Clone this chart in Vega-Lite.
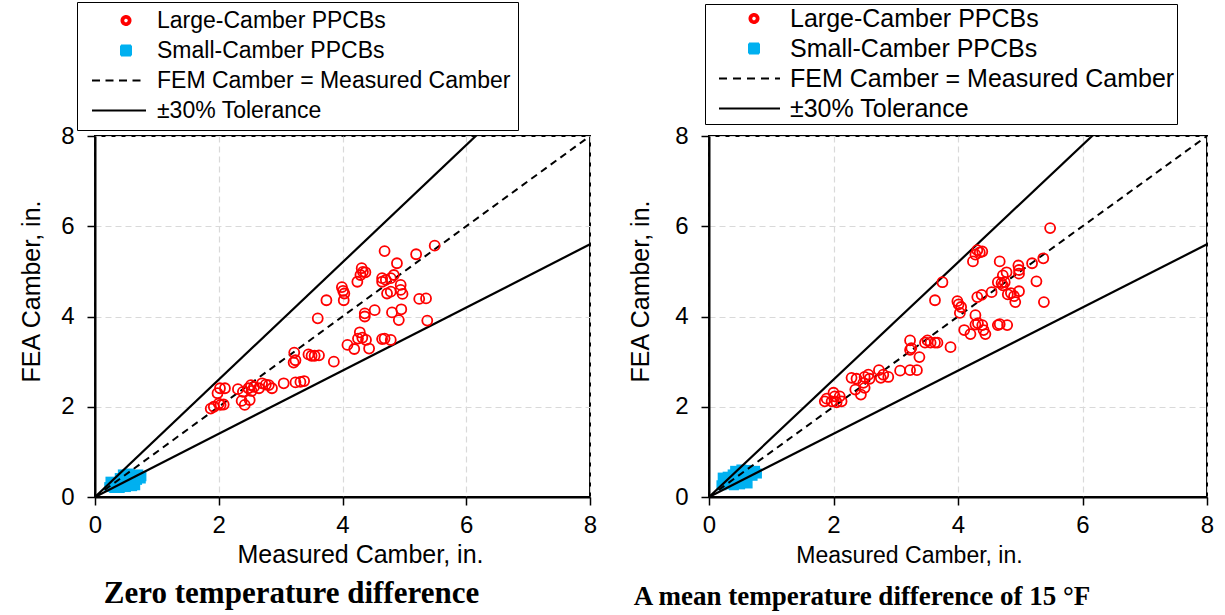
{
  "$schema": "https://vega.github.io/schema/vega-lite/v6.json",
  "background": "white",
  "padding": {"left": 18, "top": 0, "right": 5, "bottom": 5},
  "spacing": 29,
  "resolve": {"scale": {"color": "independent"}, "legend": {"color": "independent"}},
  "config": {
    "view": {"stroke": "black", "strokeWidth": 2},
    "axis": {
      "domainColor": "black", "domainWidth": 2,
      "tickColor": "black", "tickWidth": 1.5, "tickSize": 8,
      "grid": true, "gridColor": "#d9d9d9", "gridDash": [6, 4], "gridWidth": 1.2,
      "labelFont": "Liberation Sans", "labelColor": "black", "labelFontSize": 24,
      "titleFont": "Liberation Sans", "titleColor": "black", "titleFontWeight": "normal",
      "labelFlush": false, "labelOverlap": false
    },
    "axisX": {"labelPadding": 8, "titlePadding": 5},
    "axisY": {"labelPadding": 13, "titlePadding": 16},
    "legend": {
      "orient": "none", "direction": "vertical",
      "strokeColor": "black", "fillColor": "white",
      "labelFont": "Liberation Sans", "labelColor": "black", "labelLimit": 700,
      "symbolSize": 100, "symbolStrokeWidth": 2
    }
  },
  "hconcat": [
    {
      "width": 495,
      "height": 361,
      "title": {"text": "Zero temperature difference", "orient": "bottom", "anchor": "middle", "frame": "group", "dx": -51, "offset": 12, "font": "Liberation Serif", "fontWeight": "bold", "fontSize": 31, "color": "black"},
      "encoding": {
        "x": {"field": "m", "type": "quantitative", "scale": {"domain": [0, 8], "nice": false}, "axis": {"title": "Measured Camber, in.", "values": [0, 2, 4, 6, 8], "titleFontSize": 25, "titleX": 265}},
        "y": {"field": "f", "type": "quantitative", "scale": {"domain": [0, 8], "nice": false}, "axis": {"title": "FEA Camber, in.", "values": [0, 2, 4, 6, 8], "titleFontSize": 25, "titleY": 155}},
        "color": {
          "field": "s", "type": "nominal",
          "scale": {"domain": ["Large-Camber PPCBs", "Small-Camber PPCBs", "FEM Camber = Measured Camber", "±30% Tolerance"], "range": ["#FF0000", "#00B0F0", "black", "black"]},
          "legend": {
            "title": null, "legendX": -18, "legendY": -134, "labelFontSize": 23, "padding": 7, "rowPadding": 6, "symbolOffset": 30.5, "labelOffset": 19.5,
            "encode": {"symbols": {"update": {
              "shape": {"signal": "datum.value === 'Large-Camber PPCBs' ? 'M0.9,0A0.9,0.9,0,1,1,-0.9,0A0.9,0.9,0,1,1,0.9,0ZM0.55,0A0.55,0.55,0,1,0,-0.55,0A0.55,0.55,0,1,0,0.55,0Z' : datum.value === 'Small-Camber PPCBs' ? 'square' : 'M-6.8,0H4'"},
              "fill": {"signal": "datum.value === 'Small-Camber PPCBs' ? '#00B0F0' : datum.value === 'Large-Camber PPCBs' ? '#FF0000' : 'transparent'"},
              "stroke": {"signal": "datum.value === 'Large-Camber PPCBs' ? 'transparent' : datum.value === 'Small-Camber PPCBs' ? 'transparent' : 'black'"},
              "strokeDash": {"signal": "datum.value === 'FEM Camber = Measured Camber' ? [8, 5.5] : [1, 0]"},
              "strokeWidth": {"value": 2},
              "size": {"value": 100},
              "opacity": {"value": 1}
            }}}
          }
        }
      },
      "layer": [
        {
          "data": {"values": [
            {"m": 0.23, "f": 0.22, "s": "Small-Camber PPCBs"}, {"m": 0.27, "f": 0.3, "s": "Small-Camber PPCBs"}, {"m": 0.31, "f": 0.2, "s": "Small-Camber PPCBs"}, {"m": 0.35, "f": 0.27, "s": "Small-Camber PPCBs"}, {"m": 0.4, "f": 0.2, "s": "Small-Camber PPCBs"}, {"m": 0.44, "f": 0.28, "s": "Small-Camber PPCBs"}, {"m": 0.5, "f": 0.22, "s": "Small-Camber PPCBs"}, {"m": 0.55, "f": 0.3, "s": "Small-Camber PPCBs"}, {"m": 0.6, "f": 0.24, "s": "Small-Camber PPCBs"}, {"m": 0.65, "f": 0.26, "s": "Small-Camber PPCBs"}, {"m": 0.25, "f": 0.34, "s": "Small-Camber PPCBs"}, {"m": 0.48, "f": 0.33, "s": "Small-Camber PPCBs"},
            {"m": 0.4, "f": 0.42, "s": "Small-Camber PPCBs"}, {"m": 0.45, "f": 0.5, "s": "Small-Camber PPCBs"}, {"m": 0.5, "f": 0.45, "s": "Small-Camber PPCBs"}, {"m": 0.55, "f": 0.52, "s": "Small-Camber PPCBs"}, {"m": 0.6, "f": 0.48, "s": "Small-Camber PPCBs"}, {"m": 0.65, "f": 0.44, "s": "Small-Camber PPCBs"}, {"m": 0.7, "f": 0.5, "s": "Small-Camber PPCBs"}, {"m": 0.75, "f": 0.46, "s": "Small-Camber PPCBs"}, {"m": 0.58, "f": 0.4, "s": "Small-Camber PPCBs"}, {"m": 0.68, "f": 0.38, "s": "Small-Camber PPCBs"}, {"m": 0.74, "f": 0.41, "s": "Small-Camber PPCBs"}
          ]},
          "mark": {"type": "square", "size": 100, "filled": true, "opacity": 1}
        },
        {
          "data": {"values": [
            {"m": 0, "f": 0, "s": "FEM Camber = Measured Camber"}, {"m": 8, "f": 8, "s": "FEM Camber = Measured Camber"}
          ]},
          "mark": {"type": "line", "strokeWidth": 2, "strokeDash": [7, 5], "clip": true}
        },
        {
          "data": {"values": [
            {"m": 0, "f": 0, "s": "±30% Tolerance", "p": "upper"}, {"m": 8, "f": 10.4, "s": "±30% Tolerance", "p": "upper"},
            {"m": 0, "f": 0, "s": "±30% Tolerance", "p": "lower"}, {"m": 8, "f": 5.6, "s": "±30% Tolerance", "p": "lower"}
          ]},
          "mark": {"type": "line", "strokeWidth": 2.2, "clip": true},
          "encoding": {"detail": {"field": "p", "type": "nominal"}}
        },
        {
          "data": {"values": [
            {"m": 4.68, "f": 5.45, "s": "Large-Camber PPCBs"}, {"m": 5.19, "f": 5.38, "s": "Large-Camber PPCBs"}, {"m": 5.49, "f": 5.57, "s": "Large-Camber PPCBs"}, {"m": 4.88, "f": 5.18, "s": "Large-Camber PPCBs"}, {"m": 4.31, "f": 5.07, "s": "Large-Camber PPCBs"}, {"m": 4.33, "f": 4.99, "s": "Large-Camber PPCBs"}, {"m": 4.37, "f": 4.98, "s": "Large-Camber PPCBs"}, {"m": 4.29, "f": 4.92, "s": "Large-Camber PPCBs"}, {"m": 4.24, "f": 4.77, "s": "Large-Camber PPCBs"}, {"m": 3.99, "f": 4.65, "s": "Large-Camber PPCBs"},
            {"m": 4.01, "f": 4.57, "s": "Large-Camber PPCBs"}, {"m": 4.03, "f": 4.51, "s": "Large-Camber PPCBs"}, {"m": 4.02, "f": 4.36, "s": "Large-Camber PPCBs"}, {"m": 3.74, "f": 4.36, "s": "Large-Camber PPCBs"}, {"m": 4.64, "f": 4.85, "s": "Large-Camber PPCBs"}, {"m": 4.7, "f": 4.81, "s": "Large-Camber PPCBs"}, {"m": 4.78, "f": 4.85, "s": "Large-Camber PPCBs"}, {"m": 4.83, "f": 4.92, "s": "Large-Camber PPCBs"}, {"m": 4.64, "f": 4.77, "s": "Large-Camber PPCBs"}, {"m": 4.94, "f": 4.7, "s": "Large-Camber PPCBs"},
            {"m": 4.94, "f": 4.59, "s": "Large-Camber PPCBs"}, {"m": 4.97, "f": 4.5, "s": "Large-Camber PPCBs"}, {"m": 4.72, "f": 4.51, "s": "Large-Camber PPCBs"}, {"m": 4.78, "f": 4.55, "s": "Large-Camber PPCBs"}, {"m": 5.24, "f": 4.39, "s": "Large-Camber PPCBs"}, {"m": 5.35, "f": 4.4, "s": "Large-Camber PPCBs"}, {"m": 5.37, "f": 3.91, "s": "Large-Camber PPCBs"}, {"m": 4.91, "f": 3.92, "s": "Large-Camber PPCBs"}, {"m": 4.95, "f": 4.16, "s": "Large-Camber PPCBs"}, {"m": 4.8, "f": 4.09, "s": "Large-Camber PPCBs"},
            {"m": 4.52, "f": 4.14, "s": "Large-Camber PPCBs"}, {"m": 4.36, "f": 4.07, "s": "Large-Camber PPCBs"}, {"m": 4.36, "f": 4.0, "s": "Large-Camber PPCBs"}, {"m": 3.6, "f": 3.96, "s": "Large-Camber PPCBs"}, {"m": 4.28, "f": 3.65, "s": "Large-Camber PPCBs"}, {"m": 4.25, "f": 3.51, "s": "Large-Camber PPCBs"}, {"m": 4.32, "f": 3.53, "s": "Large-Camber PPCBs"}, {"m": 4.38, "f": 3.48, "s": "Large-Camber PPCBs"}, {"m": 4.43, "f": 3.29, "s": "Large-Camber PPCBs"}, {"m": 4.08, "f": 3.37, "s": "Large-Camber PPCBs"},
            {"m": 4.19, "f": 3.28, "s": "Large-Camber PPCBs"}, {"m": 4.64, "f": 3.5, "s": "Large-Camber PPCBs"}, {"m": 4.68, "f": 3.51, "s": "Large-Camber PPCBs"}, {"m": 4.78, "f": 3.48, "s": "Large-Camber PPCBs"}, {"m": 3.86, "f": 3.0, "s": "Large-Camber PPCBs"}, {"m": 3.22, "f": 3.2, "s": "Large-Camber PPCBs"}, {"m": 3.24, "f": 3.03, "s": "Large-Camber PPCBs"}, {"m": 3.21, "f": 2.98, "s": "Large-Camber PPCBs"}, {"m": 3.45, "f": 3.16, "s": "Large-Camber PPCBs"}, {"m": 3.5, "f": 3.13, "s": "Large-Camber PPCBs"},
            {"m": 3.55, "f": 3.13, "s": "Large-Camber PPCBs"}, {"m": 3.62, "f": 3.14, "s": "Large-Camber PPCBs"}, {"m": 3.05, "f": 2.52, "s": "Large-Camber PPCBs"}, {"m": 3.24, "f": 2.54, "s": "Large-Camber PPCBs"}, {"m": 3.32, "f": 2.55, "s": "Large-Camber PPCBs"}, {"m": 3.38, "f": 2.57, "s": "Large-Camber PPCBs"}, {"m": 2.81, "f": 2.48, "s": "Large-Camber PPCBs"}, {"m": 2.86, "f": 2.41, "s": "Large-Camber PPCBs"}, {"m": 2.76, "f": 2.49, "s": "Large-Camber PPCBs"}, {"m": 2.7, "f": 2.52, "s": "Large-Camber PPCBs"},
            {"m": 2.65, "f": 2.41, "s": "Large-Camber PPCBs"}, {"m": 2.57, "f": 2.44, "s": "Large-Camber PPCBs"}, {"m": 2.52, "f": 2.48, "s": "Large-Camber PPCBs"}, {"m": 2.48, "f": 2.41, "s": "Large-Camber PPCBs"}, {"m": 2.53, "f": 2.35, "s": "Large-Camber PPCBs"}, {"m": 2.39, "f": 2.33, "s": "Large-Camber PPCBs"}, {"m": 2.31, "f": 2.39, "s": "Large-Camber PPCBs"}, {"m": 2.5, "f": 2.15, "s": "Large-Camber PPCBs"}, {"m": 2.37, "f": 2.13, "s": "Large-Camber PPCBs"}, {"m": 2.42, "f": 2.04, "s": "Large-Camber PPCBs"},
            {"m": 2.1, "f": 2.41, "s": "Large-Camber PPCBs"}, {"m": 2.02, "f": 2.41, "s": "Large-Camber PPCBs"}, {"m": 1.98, "f": 2.3, "s": "Large-Camber PPCBs"}, {"m": 2.08, "f": 2.05, "s": "Large-Camber PPCBs"}, {"m": 2.03, "f": 2.04, "s": "Large-Camber PPCBs"}, {"m": 1.92, "f": 2.0, "s": "Large-Camber PPCBs"}, {"m": 1.87, "f": 1.96, "s": "Large-Camber PPCBs"}, {"m": 2.0, "f": 2.07, "s": "Large-Camber PPCBs"}
          ]},
          "mark": {"type": "point", "shape": "circle", "filled": false, "size": 100, "strokeWidth": 1.8, "opacity": 1}
        }
      ]
    },
    {
      "width": 498,
      "height": 361,
      "title": {"text": "A mean temperature difference of 15 °F", "orient": "bottom", "anchor": "middle", "frame": "group", "dx": -96, "offset": 17, "font": "Liberation Serif", "fontWeight": "bold", "fontSize": 27, "color": "black"},
      "encoding": {
        "x": {"field": "m", "type": "quantitative", "scale": {"domain": [0, 8], "nice": false}, "axis": {"title": "Measured Camber, in.", "values": [0, 2, 4, 6, 8], "titleFontSize": 23, "titleX": 200, "titlePadding": 7}},
        "y": {"field": "f", "type": "quantitative", "scale": {"domain": [0, 8], "nice": false}, "axis": {"title": "FEA Camber, in.", "values": [0, 2, 4, 6, 8], "titleFontSize": 25, "titleY": 155, "titlePadding": 21}},
        "color": {
          "field": "s", "type": "nominal",
          "scale": {"domain": ["Large-Camber PPCBs", "Small-Camber PPCBs", "FEM Camber = Measured Camber", "±30% Tolerance"], "range": ["#FF0000", "#00B0F0", "black", "black"]},
          "legend": {
            "title": null, "legendX": -4, "legendY": -132, "labelFontSize": 25, "padding": 2, "rowPadding": 4, "symbolOffset": 34.5, "labelOffset": 23.5,
            "encode": {"symbols": {"update": {
              "shape": {"signal": "datum.value === 'Large-Camber PPCBs' ? 'M0.9,0A0.9,0.9,0,1,1,-0.9,0A0.9,0.9,0,1,1,0.9,0ZM0.55,0A0.55,0.55,0,1,0,-0.55,0A0.55,0.55,0,1,0,0.55,0Z' : datum.value === 'Small-Camber PPCBs' ? 'square' : 'M-7,0H5.2'"},
              "fill": {"signal": "datum.value === 'Small-Camber PPCBs' ? '#00B0F0' : datum.value === 'Large-Camber PPCBs' ? '#FF0000' : 'transparent'"},
              "stroke": {"signal": "datum.value === 'Large-Camber PPCBs' ? 'transparent' : datum.value === 'Small-Camber PPCBs' ? 'transparent' : 'black'"},
              "strokeDash": {"signal": "datum.value === 'FEM Camber = Measured Camber' ? [8, 6] : [1, 0]"},
              "strokeWidth": {"value": 2},
              "size": {"value": 100},
              "opacity": {"value": 1}
            }}}
          }
        }
      },
      "layer": [
        {
          "data": {"values": [
            {"m": 0.2, "f": 0.26, "s": "Small-Camber PPCBs"}, {"m": 0.24, "f": 0.35, "s": "Small-Camber PPCBs"}, {"m": 0.28, "f": 0.28, "s": "Small-Camber PPCBs"}, {"m": 0.32, "f": 0.4, "s": "Small-Camber PPCBs"}, {"m": 0.36, "f": 0.3, "s": "Small-Camber PPCBs"}, {"m": 0.4, "f": 0.26, "s": "Small-Camber PPCBs"}, {"m": 0.45, "f": 0.34, "s": "Small-Camber PPCBs"}, {"m": 0.5, "f": 0.28, "s": "Small-Camber PPCBs"}, {"m": 0.55, "f": 0.32, "s": "Small-Camber PPCBs"}, {"m": 0.62, "f": 0.3, "s": "Small-Camber PPCBs"}, {"m": 0.22, "f": 0.43, "s": "Small-Camber PPCBs"}, {"m": 0.3, "f": 0.45, "s": "Small-Camber PPCBs"},
            {"m": 0.38, "f": 0.5, "s": "Small-Camber PPCBs"}, {"m": 0.42, "f": 0.58, "s": "Small-Camber PPCBs"}, {"m": 0.48, "f": 0.55, "s": "Small-Camber PPCBs"}, {"m": 0.52, "f": 0.61, "s": "Small-Camber PPCBs"}, {"m": 0.58, "f": 0.56, "s": "Small-Camber PPCBs"}, {"m": 0.63, "f": 0.6, "s": "Small-Camber PPCBs"}, {"m": 0.68, "f": 0.54, "s": "Small-Camber PPCBs"}, {"m": 0.74, "f": 0.58, "s": "Small-Camber PPCBs"}, {"m": 0.77, "f": 0.52, "s": "Small-Camber PPCBs"}, {"m": 0.6, "f": 0.48, "s": "Small-Camber PPCBs"}, {"m": 0.7, "f": 0.47, "s": "Small-Camber PPCBs"}
          ]},
          "mark": {"type": "square", "size": 100, "filled": true, "opacity": 1}
        },
        {
          "data": {"values": [
            {"m": 0, "f": 0, "s": "FEM Camber = Measured Camber"}, {"m": 8, "f": 8, "s": "FEM Camber = Measured Camber"}
          ]},
          "mark": {"type": "line", "strokeWidth": 2, "strokeDash": [7, 5], "clip": true}
        },
        {
          "data": {"values": [
            {"m": 0, "f": 0, "s": "±30% Tolerance", "p": "upper"}, {"m": 8, "f": 10.4, "s": "±30% Tolerance", "p": "upper"},
            {"m": 0, "f": 0, "s": "±30% Tolerance", "p": "lower"}, {"m": 8, "f": 5.6, "s": "±30% Tolerance", "p": "lower"}
          ]},
          "mark": {"type": "line", "strokeWidth": 2.2, "clip": true},
          "encoding": {"detail": {"field": "p", "type": "nominal"}}
        },
        {
          "data": {"values": [
            {"m": 5.48, "f": 5.96, "s": "Large-Camber PPCBs"}, {"m": 4.31, "f": 5.47, "s": "Large-Camber PPCBs"}, {"m": 4.35, "f": 5.42, "s": "Large-Camber PPCBs"}, {"m": 4.39, "f": 5.44, "s": "Large-Camber PPCBs"}, {"m": 4.28, "f": 5.37, "s": "Large-Camber PPCBs"}, {"m": 4.24, "f": 5.22, "s": "Large-Camber PPCBs"}, {"m": 4.67, "f": 5.22, "s": "Large-Camber PPCBs"}, {"m": 5.19, "f": 5.18, "s": "Large-Camber PPCBs"}, {"m": 5.37, "f": 5.29, "s": "Large-Camber PPCBs"}, {"m": 4.97, "f": 5.13, "s": "Large-Camber PPCBs"},
            {"m": 4.98, "f": 5.03, "s": "Large-Camber PPCBs"}, {"m": 4.98, "f": 4.95, "s": "Large-Camber PPCBs"}, {"m": 4.78, "f": 4.98, "s": "Large-Camber PPCBs"}, {"m": 4.72, "f": 4.91, "s": "Large-Camber PPCBs"}, {"m": 4.64, "f": 4.76, "s": "Large-Camber PPCBs"}, {"m": 4.7, "f": 4.74, "s": "Large-Camber PPCBs"}, {"m": 4.75, "f": 4.76, "s": "Large-Camber PPCBs"}, {"m": 4.72, "f": 4.69, "s": "Large-Camber PPCBs"}, {"m": 4.98, "f": 4.56, "s": "Large-Camber PPCBs"}, {"m": 4.85, "f": 4.52, "s": "Large-Camber PPCBs"},
            {"m": 4.8, "f": 4.49, "s": "Large-Camber PPCBs"}, {"m": 4.9, "f": 4.45, "s": "Large-Camber PPCBs"}, {"m": 4.92, "f": 4.32, "s": "Large-Camber PPCBs"}, {"m": 5.26, "f": 4.78, "s": "Large-Camber PPCBs"}, {"m": 5.38, "f": 4.32, "s": "Large-Camber PPCBs"}, {"m": 4.54, "f": 4.54, "s": "Large-Camber PPCBs"}, {"m": 4.38, "f": 4.48, "s": "Large-Camber PPCBs"}, {"m": 4.31, "f": 4.43, "s": "Large-Camber PPCBs"}, {"m": 3.75, "f": 4.76, "s": "Large-Camber PPCBs"}, {"m": 3.63, "f": 4.36, "s": "Large-Camber PPCBs"},
            {"m": 3.99, "f": 4.34, "s": "Large-Camber PPCBs"}, {"m": 4.01, "f": 4.27, "s": "Large-Camber PPCBs"}, {"m": 4.05, "f": 4.21, "s": "Large-Camber PPCBs"}, {"m": 4.03, "f": 4.08, "s": "Large-Camber PPCBs"}, {"m": 4.28, "f": 4.03, "s": "Large-Camber PPCBs"}, {"m": 4.28, "f": 3.82, "s": "Large-Camber PPCBs"}, {"m": 4.32, "f": 3.85, "s": "Large-Camber PPCBs"}, {"m": 4.39, "f": 3.81, "s": "Large-Camber PPCBs"}, {"m": 4.41, "f": 3.7, "s": "Large-Camber PPCBs"}, {"m": 4.44, "f": 3.61, "s": "Large-Camber PPCBs"},
            {"m": 4.1, "f": 3.7, "s": "Large-Camber PPCBs"}, {"m": 4.2, "f": 3.61, "s": "Large-Camber PPCBs"}, {"m": 4.64, "f": 3.81, "s": "Large-Camber PPCBs"}, {"m": 4.67, "f": 3.83, "s": "Large-Camber PPCBs"}, {"m": 4.79, "f": 3.81, "s": "Large-Camber PPCBs"}, {"m": 3.23, "f": 3.47, "s": "Large-Camber PPCBs"}, {"m": 3.25, "f": 3.3, "s": "Large-Camber PPCBs"}, {"m": 3.23, "f": 3.26, "s": "Large-Camber PPCBs"}, {"m": 3.38, "f": 3.1, "s": "Large-Camber PPCBs"}, {"m": 3.47, "f": 3.42, "s": "Large-Camber PPCBs"},
            {"m": 3.51, "f": 3.47, "s": "Large-Camber PPCBs"}, {"m": 3.56, "f": 3.42, "s": "Large-Camber PPCBs"}, {"m": 3.63, "f": 3.42, "s": "Large-Camber PPCBs"}, {"m": 3.67, "f": 3.42, "s": "Large-Camber PPCBs"}, {"m": 3.88, "f": 3.32, "s": "Large-Camber PPCBs"}, {"m": 3.07, "f": 2.8, "s": "Large-Camber PPCBs"}, {"m": 3.23, "f": 2.81, "s": "Large-Camber PPCBs"}, {"m": 3.34, "f": 2.81, "s": "Large-Camber PPCBs"}, {"m": 2.73, "f": 2.81, "s": "Large-Camber PPCBs"}, {"m": 2.8, "f": 2.71, "s": "Large-Camber PPCBs"},
            {"m": 2.88, "f": 2.66, "s": "Large-Camber PPCBs"}, {"m": 2.76, "f": 2.64, "s": "Large-Camber PPCBs"}, {"m": 2.56, "f": 2.71, "s": "Large-Camber PPCBs"}, {"m": 2.5, "f": 2.66, "s": "Large-Camber PPCBs"}, {"m": 2.58, "f": 2.62, "s": "Large-Camber PPCBs"}, {"m": 2.48, "f": 2.53, "s": "Large-Camber PPCBs"}, {"m": 2.29, "f": 2.64, "s": "Large-Camber PPCBs"}, {"m": 2.37, "f": 2.62, "s": "Large-Camber PPCBs"}, {"m": 2.5, "f": 2.42, "s": "Large-Camber PPCBs"}, {"m": 2.35, "f": 2.38, "s": "Large-Camber PPCBs"},
            {"m": 2.44, "f": 2.27, "s": "Large-Camber PPCBs"}, {"m": 2.0, "f": 2.31, "s": "Large-Camber PPCBs"}, {"m": 2.02, "f": 2.23, "s": "Large-Camber PPCBs"}, {"m": 2.1, "f": 2.23, "s": "Large-Camber PPCBs"}, {"m": 1.89, "f": 2.18, "s": "Large-Camber PPCBs"}, {"m": 1.86, "f": 2.12, "s": "Large-Camber PPCBs"}, {"m": 1.97, "f": 2.12, "s": "Large-Camber PPCBs"}, {"m": 2.13, "f": 2.12, "s": "Large-Camber PPCBs"}, {"m": 2.05, "f": 2.1, "s": "Large-Camber PPCBs"}
          ]},
          "mark": {"type": "point", "shape": "circle", "filled": false, "size": 100, "strokeWidth": 1.8, "opacity": 1}
        }
      ]
    }
  ]
}
